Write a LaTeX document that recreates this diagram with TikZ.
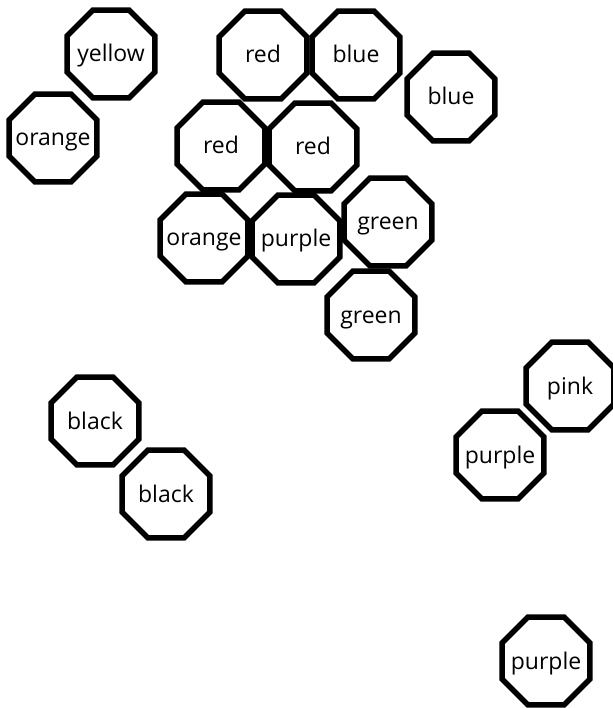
\documentclass[tikz,border=0pt]{standalone}
\usepackage{fontspec}
\setsansfont{Open Sans}
\usetikzlibrary{shapes.geometric}

\begin{document}
\begin{tikzpicture}[
    x=1pt, y=-1pt,
    every node/.style={font=\sffamily\fontsize{23}{26}\selectfont},
    oct/.style={draw, regular polygon, regular polygon sides=8, line width=5.5pt,
      minimum size=95pt, inner sep=-20pt, text height=16pt, text depth=0pt}
]
\useasboundingbox (0,0) rectangle (612,708);
% top left pair
\node[oct] (yel)   at (111,54)  {yellow};
\node[oct] (orL)   at (53,138)  {orange};
% middle cluster
\node[oct] (redA)  at (263,55)  {red};
\node[oct] (blueA) at (356,55)  {blue};
\node[oct] (blueB) at (451,97)  {blue};
\node[oct] (redB)  at (221,146) {red};
\node[oct] (redC)  at (313,147) {red};
\node[oct] (orM)   at (204,238) {orange};
\node[oct] (purM)  at (296,239) {purple};
\node[oct] (grnA)  at (388,222) {green};
\node[oct] (grnB)  at (371,315) {green};
% right side
\node[oct] (pink)  at (570,386) {pink};
\node[oct] (purR)  at (500,455) {purple};
\node[oct] (purB)  at (546,661) {purple};
% bottom left pair
\node[oct] (blkA)  at (95,421)  {black};
\node[oct] (blkB)  at (166,494) {black};
\end{tikzpicture}
\end{document}
